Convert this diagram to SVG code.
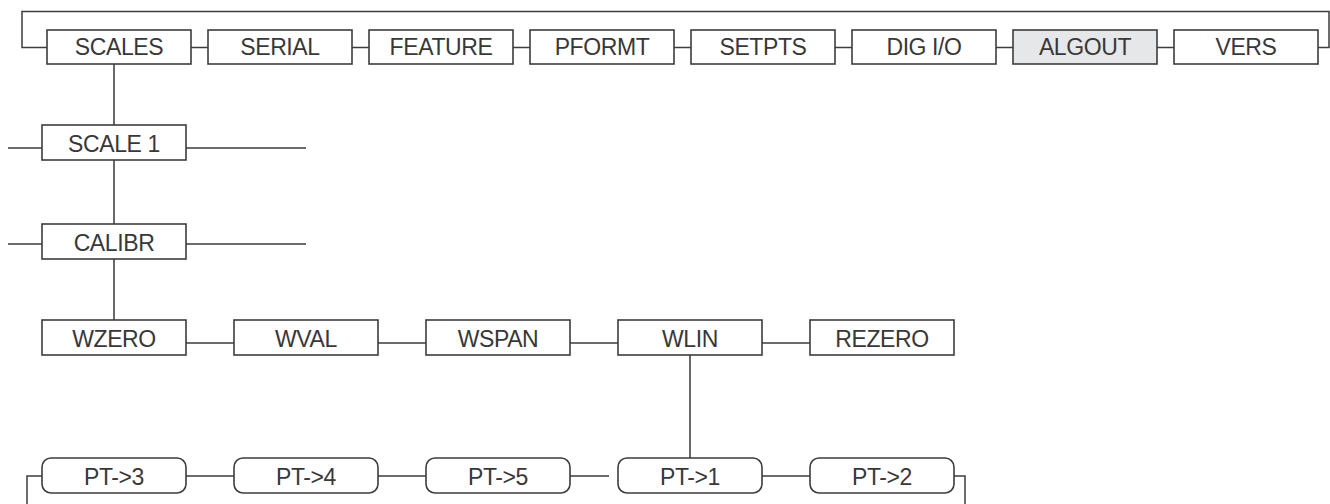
<svg xmlns="http://www.w3.org/2000/svg" width="1330" height="504" viewBox="0 0 1330 504">
<style>
.b{fill:#fff;stroke:#3d3d3d;stroke-width:1.6}
.g{fill:#e6e7e8}
.c{fill:none;stroke:#3d3d3d;stroke-width:1.5}
.v{fill:none;stroke:#5a5a5a;stroke-width:1.8}
text{font-family:"Liberation Sans",Arial,sans-serif;font-size:23px;letter-spacing:-0.4px;fill:#383838;text-anchor:middle}
</style>
<rect width="1330" height="504" fill="#fff"/>
<g id="connectors">
<path class="c" d="M47,47.5H22V11.5H1329V47.5H1318"/>
<path class="c" d="M191,47.5H208M352,47.5H369M513,47.5H530M674,47.5H691M835,47.5H852M996,47.5H1013M1157,47.5H1174"/>
<path class="v" d="M114,64V125M114,160V224M114,259V320M690,355V458"/>
<path class="c" d="M8,148H42M186,148H306M8,244H42M186,244H306"/>
<path class="c" d="M186,343H234M378,343H426M570,343H618M762,343H810"/>
<path class="c" d="M186,476H234M378,476H426M570,476H609M762,476H810M42,476H27V504M954,476H965V504"/>
</g>
<g id="n-scales"><rect class="b" x="47" y="30" width="144" height="34"/><text x="119" y="55">SCALES</text></g>
<g id="n-serial"><rect class="b" x="208" y="30" width="144" height="34"/><text x="280" y="55">SERIAL</text></g>
<g id="n-feature"><rect class="b" x="369" y="30" width="144" height="34"/><text x="441" y="55">FEATURE</text></g>
<g id="n-pformt"><rect class="b" x="530" y="30" width="144" height="34"/><text x="602" y="55">PFORMT</text></g>
<g id="n-setpts"><rect class="b" x="691" y="30" width="144" height="34"/><text x="763" y="55">SETPTS</text></g>
<g id="n-digio"><rect class="b" x="852" y="30" width="144" height="34"/><text x="924" y="55">DIG I/O</text></g>
<g id="n-algout"><rect class="b g" x="1013" y="30" width="144" height="34"/><text x="1085" y="55">ALGOUT</text></g>
<g id="n-vers"><rect class="b" x="1174" y="30" width="144" height="34"/><text x="1246" y="55">VERS</text></g>
<g id="n-scale1"><rect class="b" x="42" y="125" width="144" height="35"/><text x="114" y="152">SCALE 1</text></g>
<g id="n-calibr"><rect class="b" x="42" y="224" width="144" height="35"/><text x="114" y="251">CALIBR</text></g>
<g id="n-wzero"><rect class="b" x="42" y="320" width="144" height="35"/><text x="114" y="347">WZERO</text></g>
<g id="n-wval"><rect class="b" x="234" y="320" width="144" height="35"/><text x="306" y="347">WVAL</text></g>
<g id="n-wspan"><rect class="b" x="426" y="320" width="144" height="35"/><text x="498" y="347">WSPAN</text></g>
<g id="n-wlin"><rect class="b" x="618" y="320" width="144" height="35"/><text x="690" y="347">WLIN</text></g>
<g id="n-rezero"><rect class="b" x="810" y="320" width="144" height="35"/><text x="882" y="347">REZERO</text></g>
<g id="n-pt3"><rect class="b" x="42" y="458" width="144" height="35" rx="9"/><text x="114" y="485">PT-&gt;3</text></g>
<g id="n-pt4"><rect class="b" x="234" y="458" width="144" height="35" rx="9"/><text x="306" y="485">PT-&gt;4</text></g>
<g id="n-pt5"><rect class="b" x="426" y="458" width="144" height="35" rx="9"/><text x="498" y="485">PT-&gt;5</text></g>
<g id="n-pt1"><rect class="b" x="618" y="458" width="144" height="35" rx="9"/><text x="690" y="485">PT-&gt;1</text></g>
<g id="n-pt2"><rect class="b" x="810" y="458" width="144" height="35" rx="9"/><text x="882" y="485">PT-&gt;2</text></g>
</svg>
